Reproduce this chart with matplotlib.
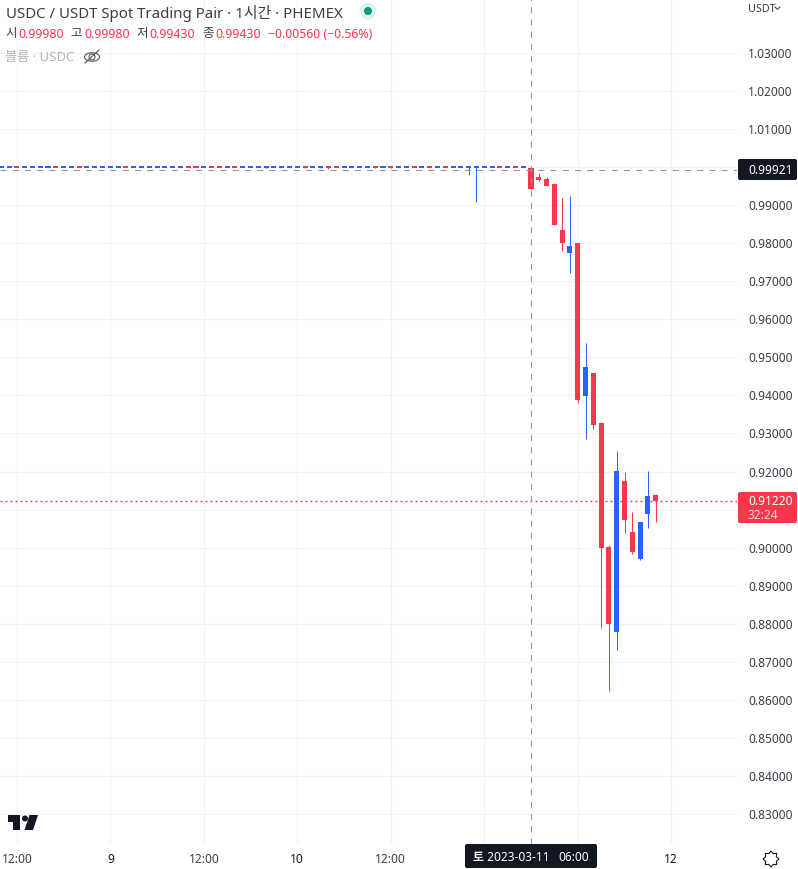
import numpy as np
import matplotlib
matplotlib.use("Agg")
import matplotlib.pyplot as plt
from matplotlib.patches import Circle, Ellipse, FancyBboxPatch, Polygon
from matplotlib.transforms import ScaledTranslation

plt.rcParams['font.family'] = ['Noto Sans', 'Noto Sans CJK KR', 'DejaVu Sans']

# hourly candles, hour 0 = 2023-03-11 06:00
first_hour = -68
opens = [
    .99995, .99995, .99997, .99995, .99995, .99995, .99995, .99997, .99995, .99995,
    .99997, .99995, .99995, .99995, .99995, .99995, .99997, .99995, .99995, .99995,
    .99995, .99995, .99995, .99995, .99997, .99997, .99995, .99997, .99997, .99995,
    .99997, .99995, .99995, .99995, .99965, .99995, .99995, .99995, .99995, 1.00038,
    .99995, .99965, .99997, .99997, .99995, .99995, .99995, .99995, 1.00038, .99995,
    1.00038, .99995, .99995, .99997, .99995, .99997, .99995, .99997, .99995, .99995,
    .99995, .99995, .99995, .99995, .99997, .99995, .99997, .99995,
    .99980, .99741, .99689, .99557, .98348, .97744, .98007, .93986, .94590,
    .93276, .90017, .87783, .91752, .90411, .89702, .90884, .91383,
]
highs = [
    .99997, .99997, .99997, .99997, .99997, .99997, .99997, .99997, .99997, .99997,
    .99997, .99997, .99997, .99997, .99997, .99997, .99997, .99997, .99997, .99997,
    .99997, .99997, .99997, .99997, .99997, .99997, .99997, .99997, .99997, .99997,
    .99997, 1.00040, 1.00040, .99997, 1.00038, .99997, .99997, 1.00040, .99997, 1.00038,
    1.00040, 1.00038, 1.00040, .99997, 1.00040, .99997, .99997, 1.00040, 1.00038, 1.00040,
    1.00038, .99997, .99997, .99997, .99997, .99997, .99997, .99997, .99997, .99997,
    .99997, .99997, .99997, .99997, .99997, .99997, .99997, .99997,
    .99980, .99846, .99733, .99583, .99189, .99242, .98007, .95378, .94590,
    .93276, .90070, .92540, .91988, .90937, .90674, .92014, .91410,
]
lows = [
    .99995, .99995, .99995, .99995, .99995, .99995, .99995, .99995, .99995, .99995,
    .99995, .99995, .99995, .99995, .99995, .99995, .99995, .99995, .99995, .99995,
    .99995, .99995, .99995, .99995, .99995, .99995, .99995, .99995, .99995, .99995,
    .99995, .99995, .99995, .99995, .99965, .99995, .99995, .99995, .99995, .99965,
    .99995, .99965, .99950, .99995, .99995, .99995, .99995, .99995, .99965, .99995,
    .99965, .99995, .99995, .99995, .99995, .99995, .99995, .99995, .99995, .99995,
    .99802, .99092, .99995, .99995, .99995, .99995, .99995, .99995,
    .99430, .99636, .99505, .98480, .97796, .97218, .93802, .92855, .93118,
    .87888, .86233, .87310, .90385, .89833, .89676, .90516, .90674,
]
closes = [
    .99997, .99997, .99995, .99997, .99997, .99997, .99997, .99995, .99997, .99997,
    .99995, .99997, .99997, .99997, .99997, .99997, .99995, .99997, .99997, .99997,
    .99997, .99997, .99997, .99997, .99995, .99995, .99997, .99995, .99995, .99997,
    .99995, .99997, .99997, .99997, 1.00038, .99997, .99997, .99997, .99997, .99965,
    .99997, 1.00038, .99995, .99995, .99997, .99997, .99997, .99997, .99965, .99997,
    .99965, .99997, .99997, .99995, .99997, .99995, .99997, .99995, .99997, .99997,
    .99997, .99997, .99997, .99997, .99995, .99997, .99995, .99997,
    .99430, .99662, .99505, .98480, .98007, .97928, .93880, .94748, .93223,
    .89991, .87993, .92014, .90727, .89885, .90674, .91357, .91220,
]

price_ticks = [0.83, 0.84, 0.85, 0.86, 0.87, 0.88, 0.89, 0.90, 0.91, 0.92, 0.93,
               0.94, 0.95, 0.96, 0.97, 0.98, 0.99, 1.00, 1.01, 1.02, 1.03]
hidden_price_labels = [0.91, 1.00]  # these sit under the price boxes
hour_ticks = [-66, -54, -42, -30, -18, -6, 6, 18]
hour_labels = ["12:00", "9", "12:00", "10", "12:00", "", "", "12"]
crosshair_hour = 0
crosshair_price = 0.99921
last_price = 0.91220

UP = "#2962ff"
DOWN = "#f7374b"
DARK = "#131722"
GRID = "#f1f2f4"
CROSS = "#9598a1"
TEXT = "#3a3e49"

W, H = 798, 870
fig = plt.figure(figsize=(W / 100, H / 100), dpi=100, facecolor="white")
ax = fig.add_axes([0, 25 / H, 737 / W, 845 / H])

o = np.array(opens)
h = np.array(highs)
l = np.array(lows)
c = np.array(closes)
hours = first_hour + np.arange(len(o))
colors = [UP if b >= a else DOWN for a, b in zip(o, c)]

wicks = ax.vlines(hours, l, h, colors=colors, linewidth=0.72, zorder=3)
wicks.set_snap(True)
# a flat candle still shows as a short dash
body = np.maximum(np.abs(c - o), 0.00052)
ax.bar(hours, body, bottom=(o + c) / 2 - body / 2,
       width=0.65, color=colors, linewidth=0, zorder=4)

ax.set_xlim(-68.16, 26.44)
ax.set_ylim(0.82211, 1.04419)
ax.set_yticks(price_ticks)
ax.set_yticklabels(["" if p in hidden_price_labels else f"{p:.5f}" for p in price_ticks])
ax.set_xticks(hour_ticks)
ax.set_xticklabels(hour_labels)
ax.yaxis.tick_right()
ax.tick_params(axis="y", length=0, pad=8, labelsize=8.6, labelcolor=TEXT)
ax.tick_params(axis="x", length=0, pad=6, labelsize=8.6, labelcolor=TEXT)
for lab in ax.get_yticklabels():
    lab.set_transform(lab.get_transform() + ScaledTranslation(0, 1 / 100, fig.dpi_scale_trans))
for lab in ax.get_xticklabels():
    if lab.get_text() in ("9", "10", "12"):
        lab.set_color(DARK)
        lab.set_fontweight("semibold")
ax.grid(True, color=GRID, linewidth=0.8)
ax.set_axisbelow(True)
for s in ax.spines.values():
    s.set_visible(False)

# crosshair and last price line
ax.axvline(crosshair_hour, color=CROSS, linewidth=0.8, linestyle=(0, (5.5, 5.5)), zorder=5)
ax.axhline(crosshair_price, color=CROSS, linewidth=0.8, linestyle=(0, (5.5, 5.5)), zorder=5)
ax.axhline(last_price, color=DOWN, linewidth=1.0, linestyle=(0, (1.4, 2.2)), zorder=2)

# overlay in pixel coordinates for legend, price boxes and logos
ov = fig.add_axes([0, 0, 1, 1], facecolor="none")
ov.set_xlim(0, W)
ov.set_ylim(H, 0)
ov.axis("off")


def box(x0, y0, x1, y1, color):
    ov.add_patch(FancyBboxPatch((x0 + 2, y0 + 2), x1 - x0 - 4, y1 - y0 - 4,
                                boxstyle="round,pad=2,rounding_size=2", fc=color, ec="none"))


# legend rows
ov.text(6, 13, "USDC / USDT Spot Trading Pair · 1시간 · PHEMEX", fontsize=10.8,
        color=TEXT, va="center")
ov.add_patch(Circle((368, 12), 8.5, fc="#dff2ee", ec="none"))
ov.add_patch(Circle((368, 12), 4, fc="#089981", ec="none"))
for x, name in zip([5, 70, 136, 202], ["시", "고", "저", "종"]):
    ov.text(x, 34, name, fontsize=9, color=TEXT, va="center")
for x, val in zip([18, 84, 149, 215], ["0.99980", "0.99980", "0.99430", "0.99430"]):
    ov.text(x, 34, val, fontsize=8.9, color=DOWN, va="center")
ov.text(268, 34, "−0.00560 (−0.56%)", fontsize=8.8, color=DOWN, va="center")
ov.text(5, 58, "볼륨 · USDC", fontsize=9.5, color="#b2b5be", va="center")
ov.add_patch(Ellipse((92, 58), 15, 8.5, fc="none", ec="#50535e", lw=0.8))
ov.add_patch(Circle((92, 58), 3, fc="none", ec="#50535e", lw=0.8))
ov.plot([85, 99], [64, 51], color="#50535e", lw=0.8)

# price scale header
ov.text(748, 9, "USDT", fontsize=7.8, color=TEXT, va="center")
ov.plot([775, 777.5, 780], [8, 10.5, 8], color=TEXT, lw=0.7)

# price and time boxes
box(738, 160, 797, 181, DARK)
ov.text(748, 170.5, f"{crosshair_price:.5f}", fontsize=8.6, color="white",
        fontweight="bold", va="center")
box(738, 493, 797, 524, DOWN)
ov.text(748, 501.5, f"{last_price:.5f}", fontsize=8.6, color="white",
        fontweight="bold", va="center")
ov.text(748, 515.5, "32:24", fontsize=8.6, color="#ffd9dd", fontweight="semibold", va="center")
box(465, 845, 597, 869, DARK)
ov.text(473, 858, "토 2023-03-11", fontsize=8.6, color="white", va="center", fontweight="semibold")
ov.text(558, 858, "06:00", fontsize=8.6, color="white", va="center", fontweight="semibold")

# TradingView logo
ov.add_patch(Polygon([(8, 816), (20, 816), (20, 831), (13, 831), (13, 823), (8, 823)],
                     fc=DARK, ec="none"))
ov.add_patch(Circle((25, 819.5), 3, fc=DARK, ec="none"))
ov.add_patch(Polygon([(29.5, 816), (38, 816), (33, 831), (24.5, 831)], fc=DARK, ec="none"))

# settings icon, an eight pointed outline
ang = np.deg2rad(np.arange(16) * 22.5)
rad = np.where(np.arange(16) % 2 == 0, 8, 5.8)
ov.add_patch(Polygon(np.column_stack([771 + rad * np.sin(ang), 860 - rad * np.cos(ang)]),
                     fc="none", ec=DARK, lw=0.8))

fig.savefig("out.png", dpi=100)
